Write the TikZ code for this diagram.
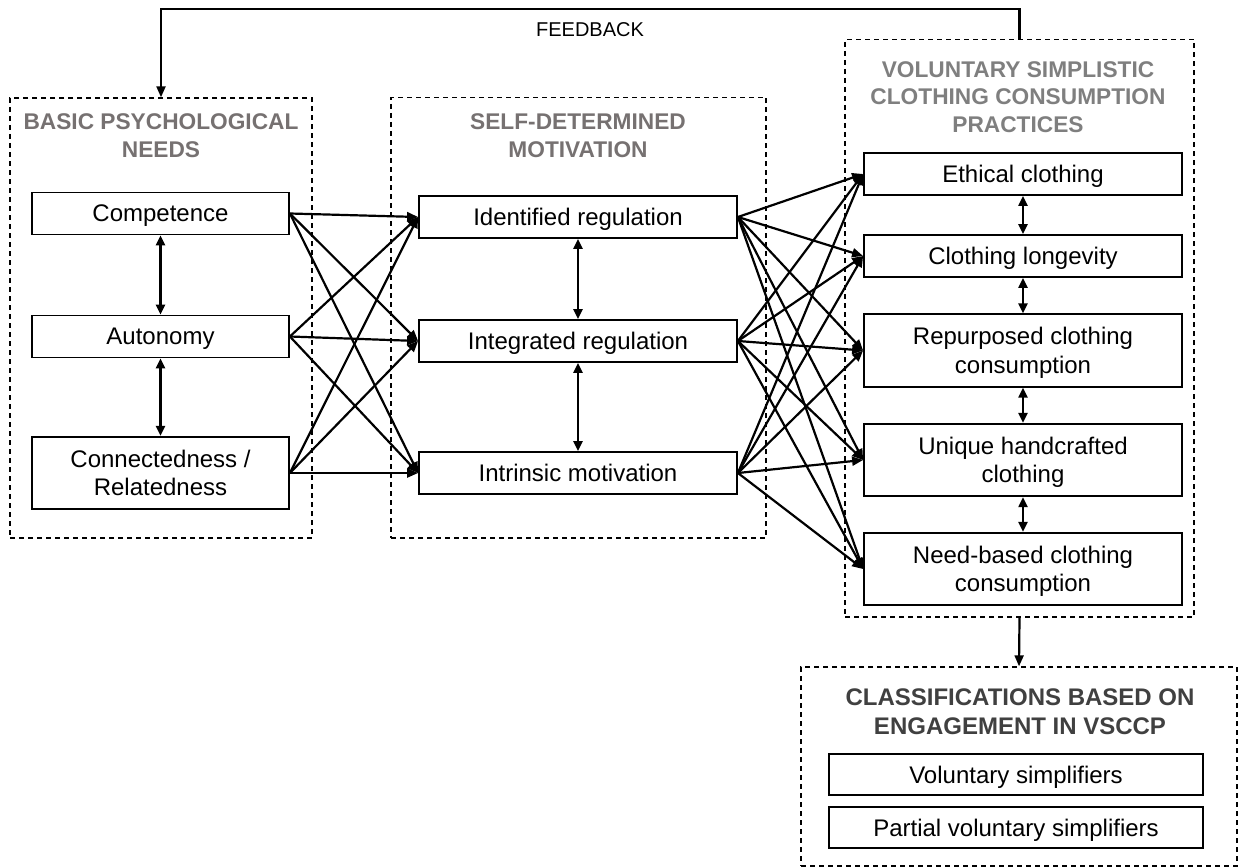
\documentclass[tikz,border=0pt]{standalone}
\usepackage{fontspec}
\setmainfont{Liberation Sans}
\usetikzlibrary{arrows.meta}
\definecolor{headgray}{HTML}{767171}
\definecolor{headlight}{HTML}{7F7F7F}
\definecolor{headdark}{HTML}{404040}
\begin{document}
\begin{tikzpicture}[x=1pt,y=-1pt,
  box/.style={draw, line width=1.8pt, inner sep=0pt, align=center, text depth=0pt,
    font=\fontsize{24}{28.5}\selectfont, minimum height=42pt},
  tall/.style={minimum height=72.5pt},
  lbox/.style={box, minimum width=257pt},
  mbox/.style={box, minimum width=318pt},
  rbox/.style={box, minimum width=318pt},
  cbox/.style={box, minimum width=374pt, minimum height=41pt},
  group/.style={draw, line width=1.4pt, dash pattern=on 5pt off 4pt, inner sep=0pt},
  head/.style={anchor=base, align=center, inner sep=0pt,
    font=\fontsize{22.7}{27.8}\selectfont\bfseries},
  arr/.style={line width=2.2pt, -{Triangle[length=11pt,width=9pt]}},
  darr/.style={line width=2.2pt, {Triangle[length=10pt,width=9pt]}-{Triangle[length=10pt,width=9pt]}},
]
\path[use as bounding box] (0,0) rectangle (1238,867);

% dashed groups
\node[group, minimum width=302pt, minimum height=440pt] (g1) at (161,318) {};
\node[group, minimum width=375pt, minimum height=440.5pt] (g2) at (578.5,317.75) {};
\node[group, minimum width=349pt, minimum height=577.5pt] (g3) at (1019.5,328.25) {};
\node[group, minimum width=436pt, minimum height=199pt] (g4) at (1019,766.5) {};

% group headings (placed at the baseline of their last line)
\node[head, text=headgray] (h1) at (161,157) {BASIC PSYCHOLOGICAL\\NEEDS};
\node[head, text=headgray] (h2) at (578,157.7) {SELF-DETERMINED\\MOTIVATION};
\node[head, text=headlight] (h3) at (1018,132.7) {VOLUNTARY SIMPLISTIC\\CLOTHING CONSUMPTION\\PRACTICES};
\node[head, text=headdark, font=\fontsize{24}{29}\selectfont\bfseries] (h4) at (1020,734) {CLASSIFICATIONS BASED ON\\ENGAGEMENT IN VSCCP};

% basic psychological needs
\node[lbox] (comp) at (160.5,213.5) {Competence};
\node[lbox] (auto) at (160.5,336.5) {Autonomy};
\node[lbox, tall] (conn) at (160.5,473) {Connectedness /\\Relatedness};

% self-determined motivation
\node[mbox] (iden) at (578,217) {Identified regulation};
\node[mbox] (integ) at (578,341) {Integrated regulation};
\node[mbox] (intr) at (578,473) {Intrinsic motivation};

% clothing consumption practices
\node[rbox] (eth) at (1023,174) {Ethical clothing};
\node[rbox] (lon) at (1023,256) {Clothing longevity};
\node[rbox, tall] (rep) at (1023,350.5) {Repurposed clothing\\consumption};
\node[rbox, tall] (uni) at (1023,460) {Unique handcrafted\\clothing};
\node[rbox, tall] (need) at (1023,569) {Need-based clothing\\consumption};

% classifications
\node[cbox] (vol) at (1016,774.5) {Voluntary simplifiers};
\node[cbox] (part) at (1016,827.5) {Partial voluntary simplifiers};

% feedback loop
\coordinate (fb) at (590,9);
\node[anchor=base, inner sep=0pt, font=\fontsize{20}{24}\selectfont] (fblabel) at (590,36.7) {FEEDBACK};
\draw[arr] (g3.north) |- (fb) -| (g1.north);
\draw[arr] (g3.south) -- (g4.north);

% links within groups
\draw[darr] (comp.south) -- (auto.north);
\draw[darr] (auto.south) -- (conn.north);
\draw[darr] (iden.south) -- (integ.north);
\draw[darr] (integ.south) -- (intr.north);
\draw[darr] (eth.south) -- (lon.north);
\draw[darr] (lon.south) -- (rep.north);
\draw[darr] (rep.south) -- (uni.north);
\draw[darr] (uni.south) -- (need.north);

% needs -> motivation
\foreach \s in {comp,auto,conn}
  \foreach \t in {iden,integ,intr}
    \draw[arr] (\s.east) -- (\t.west);

% motivation -> practices
\foreach \s in {iden,integ,intr}
  \foreach \t in {eth,lon,rep,uni,need}
    \draw[arr] (\s.east) -- (\t.west);
\end{tikzpicture}
\end{document}
